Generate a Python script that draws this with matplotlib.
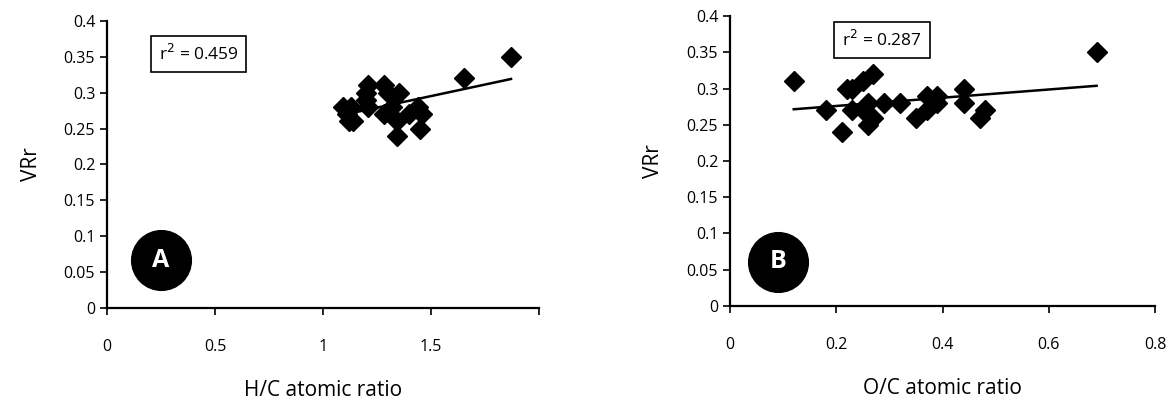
import numpy as np
import matplotlib
matplotlib.use('Agg')
import matplotlib.pyplot as plt

plt.rcParams['font.family'] = ['Open Sans', 'DejaVu Sans']

# panel A: H/C atomic ratio vs VRr
hc_x = [1.09, 1.13, 1.11, 1.14, 1.12, 1.21, 1.20, 1.20, 1.21, 1.28, 1.30, 1.35,
        1.28, 1.32, 1.34, 1.34, 1.40, 1.44, 1.46, 1.45, 1.65, 1.87]
hc_y = [0.28, 0.28, 0.27, 0.26, 0.26, 0.31, 0.30, 0.29, 0.28, 0.31, 0.30, 0.30,
        0.27, 0.28, 0.24, 0.26, 0.27, 0.28, 0.27, 0.25, 0.32, 0.35]

# panel B: O/C atomic ratio vs VRr
oc_x = [0.12, 0.18, 0.21, 0.22, 0.23, 0.23, 0.25, 0.27, 0.26, 0.25, 0.26, 0.27,
        0.29, 0.32, 0.35, 0.37, 0.37, 0.39, 0.39, 0.44, 0.44, 0.47, 0.48, 0.69]
oc_y = [0.31, 0.27, 0.24, 0.30, 0.30, 0.27, 0.31, 0.32, 0.28, 0.27, 0.25, 0.26,
        0.28, 0.28, 0.26, 0.27, 0.29, 0.29, 0.28, 0.30, 0.28, 0.26, 0.27, 0.35]

y_ticks = [0, 0.05, 0.1, 0.15, 0.2, 0.25, 0.3, 0.35, 0.4]
y_labels = ['0', '0.05', '0.1', '0.15', '0.2', '0.25', '0.3', '0.35', '0.4']

hc_ticks = [0, 0.5, 1, 1.5, 2]
hc_labels = ['0', '0.5', '1', '1.5', '']
oc_ticks = [0, 0.2, 0.4, 0.6, 0.8]
oc_labels = ['0', '0.2', '0.4', '0.6', '0.8']

fig = plt.figure(figsize=(11.71, 4.01), dpi=100)
ax1 = fig.add_axes([0.0914, 0.232, 0.369, 0.716])
ax2 = fig.add_axes([0.6234, 0.237, 0.363, 0.723])


def draw_panel(ax, x, y, xticks, xlabels, xlabel, r2, letter, box_pos, circ_pos):
    ax.plot(x, y, 'D', color='black', markersize=10)
    k, b = np.polyfit(x, y, 1)
    xs = np.array([min(x), max(x)])
    ax.plot(xs, k * xs + b, color='black', lw=1.8)
    ax.set_xlim(xticks[0], xticks[-1])
    ax.set_ylim(0, 0.4)
    ax.set_xticks(xticks)
    ax.set_xticklabels(xlabels)
    ax.set_yticks(y_ticks)
    ax.set_yticklabels(y_labels)
    for s in ['top', 'right']:
        ax.spines[s].set_visible(False)
    for s in ['left', 'bottom']:
        ax.spines[s].set_linewidth(1.6)
    ax.tick_params(axis='both', direction='out', length=5, width=1.2, labelsize=11.5)
    ax.tick_params(axis='x', pad=17)
    ax.set_xlabel(xlabel, fontsize=15, labelpad=18)
    ax.set_ylabel('VRr', fontsize=15, labelpad=16)
    ax.text(box_pos[0], box_pos[1], r'r$^2$ = ' + r2, transform=ax.transAxes,
            fontsize=12.5, ha='center', va='center',
            bbox=dict(boxstyle='square,pad=0.45', fc='white', ec='black', lw=1.2))
    ax.plot(circ_pos[0], circ_pos[1], 'o', color='black', markersize=43,
            transform=ax.transAxes, clip_on=False)
    ax.text(circ_pos[0], circ_pos[1], letter, transform=ax.transAxes, color='white',
            fontsize=18, fontweight='bold', ha='center', va='center')


draw_panel(ax1, hc_x, hc_y, hc_ticks, hc_labels, 'H/C atomic ratio', '0.459', 'A',
           (0.212, 0.885), (0.125, 0.167))
draw_panel(ax2, oc_x, oc_y, oc_ticks, oc_labels, 'O/C atomic ratio', '0.287', 'B',
           (0.358, 0.917), (0.113, 0.152))

fig.savefig('out.png', dpi=100)
